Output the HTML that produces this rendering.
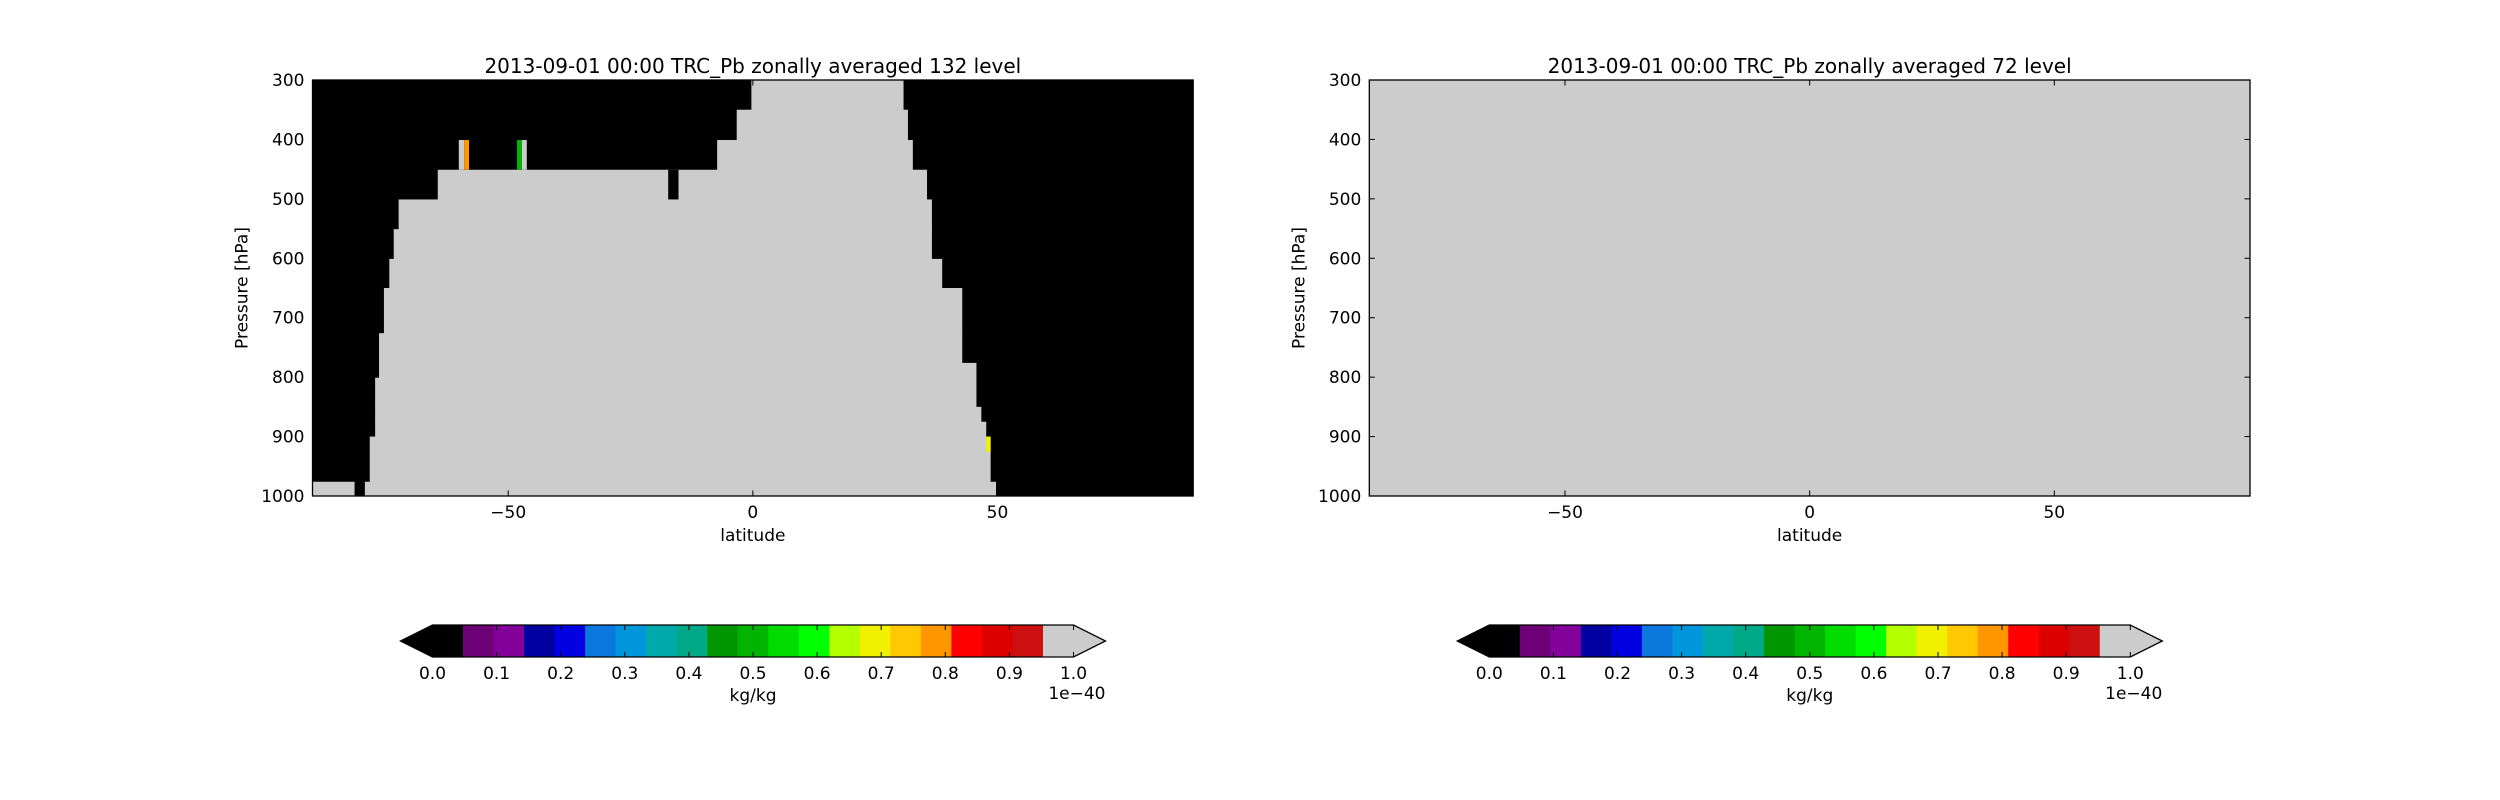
<!DOCTYPE html>
<html><head><meta charset="utf-8"><style>
html,body{margin:0;padding:0;background:#fff}
svg{display:block}
text{font-family:"DejaVu Sans","Liberation Sans",sans-serif;fill:#000}
</style></head><body>
<svg id="fig" width="2500" height="800" viewBox="0 0 2500 800" xmlns="http://www.w3.org/2000/svg">
<rect width="2500" height="800" fill="#fff"/>
</svg>
<script>
// ---- data ----
const rowPTop    = [300, 350, 401, 451, 501, 551, 601, 650, 726, 776, 801, 850, 875, 900, 926, 976];
const rowPBot    = [350, 401, 451, 501, 551, 601, 650, 726, 776, 801, 850, 875, 900, 926, 976, 1000];
const rowLatLeft = [-0.3, -3.3, -7.3, -64.4, -72.4, -73.4, -74.3, -75.4, -76.4, -76.4, -77.2, -77.2, -77.2, -78.3, -78.3, -79.3];
const rowLatRight= [30.8, 31.7, 32.7, 35.6, 36.6, 36.6, 38.7, 42.8, 42.8, 45.7, 45.7, 46.7, 47.7, 48.6, 48.6, 49.7];
const cellLat0 = [-60.1, -59.0, -48.2, -47.2, -17.3, -90, 47.7];
const cellLat1 = [-59.0, -58.0, -47.2, -46.2, -15.2, -81.4, 48.6];
const cellP0   = [401, 401, 401, 401, 451, 976, 900];
const cellP1   = [451, 451, 451, 451, 501, 1000, 926];
const cellVal  = [1.0, 0.8, 0.5, 1.0, 0.0, 1.0, 0.7];
const xTicks = [-50, 0, 50];
const yTicks = [300, 400, 500, 600, 700, 800, 900, 1000];
const cbTicks = ["0.0","0.1","0.2","0.3","0.4","0.5","0.6","0.7","0.8","0.9","1.0"];
const cbColors = ["#000000","#6e0077","#84009b","#0000a0","#0000e0","#0a78dc","#0096dc","#00aaaa","#00aa88","#009600","#00b400","#00dc00","#00ff00","#b4ff00","#f0f000","#ffc800","#ff9600","#ff0000","#dc0000","#cc1010","#cccccc"];
const titles = ["2013-09-01 00:00 TRC_Pb zonally averaged 132 level","2013-09-01 00:00 TRC_Pb zonally averaged 72 level"];

const NS="http://www.w3.org/2000/svg";
const svg=document.getElementById('fig');
function mk(tag,attrs,parent){const e=document.createElementNS(NS,tag);for(const k in attrs)e.setAttribute(k,attrs[k]);(parent||svg).appendChild(e);return e;}
function colorFor(v){let i=Math.min(20,Math.max(0,Math.round(v*20)));return cbColors[i];}

const axW=880.7, axTop=80, axH=416;
const axLefts=[312.5,1369.3];
[0,1].forEach(function(pi){
  const L=axLefts[pi];
  const X=function(lat){return L+(lat+90)/180*axW;};
  const Y=function(p){return axTop+(p-300)/700*axH;};
  const g=mk('g',{});
  
  
  const bg=mk('rect',{x:L,y:axTop,width:axW,height:axH,fill:pi===0?'#000':'#cccccc'},g);
  
  
  if(pi===0){
    for(let i=0;i<rowPTop.length;i++){
      const r=mk('rect',{x:X(rowLatLeft[i]),y:Y(rowPTop[i]),width:X(rowLatRight[i])-X(rowLatLeft[i]),height:Y(rowPBot[i])-Y(rowPTop[i])+0.5,fill:'#cccccc'},g);
      
      
    }
    for(let i=0;i<cellLat0.length;i++){
      const c=mk('rect',{x:X(cellLat0[i]),y:Y(cellP0[i]),width:X(cellLat1[i])-X(cellLat0[i]),height:Y(cellP1[i])-Y(cellP0[i]),fill:colorFor(cellVal[i])},g);
      
      
    }
  }
  mk('rect',{x:L,y:axTop,width:axW,height:axH,fill:'none',stroke:'#000','stroke-width':1.3},g);
  xTicks.forEach(function(t){
    const x=X(t);
    mk('line',{x1:x,y1:axTop+axH,x2:x,y2:axTop+axH-5.5,stroke:'#000'},g);
    mk('line',{x1:x,y1:axTop,x2:x,y2:axTop+5.5,stroke:'#000'},g);
    const tx=mk('text',{x:x,y:axTop+axH+22,'font-size':17,'text-anchor':'middle'},g);
    tx.textContent=(t<0?'\u2212'+(-t):String(t));
    
    
  });
  yTicks.forEach(function(t){
    const y=Y(t);
    mk('line',{x1:L,y1:y,x2:L+5.5,y2:y,stroke:'#000'},g);
    mk('line',{x1:L+axW,y1:y,x2:L+axW-5.5,y2:y,stroke:'#000'},g);
    const ty=mk('text',{x:L-8,y:y+6,'font-size':17,'text-anchor':'end'},g);
    ty.textContent=String(t);
    
    
  });
  const tt=mk('text',{x:L+axW/2,y:73,'font-size':20,'text-anchor':'middle'},g);
  tt.textContent=titles[pi];
  
  
  const xl=mk('text',{x:L+axW/2,y:541,'font-size':17,'text-anchor':'middle'},g);
  xl.textContent='latitude';
  
  
  const yl=mk('text',{x:0,y:0,'font-size':17,'text-anchor':'middle',transform:'translate('+(L-65)+','+(axTop+axH/2)+') rotate(-90)'},g);
  yl.textContent='Pressure [hPa]';
  
  

  const cbL=432.5+(L-312.5), cbR=cbL+641, cbT=625, cbB=657, n=cbColors.length, sw=(cbR-cbL)/n;
  const cb=mk('g',{});
  
  
  for(let i=0;i<n;i++){
    const s=mk('rect',{x:cbL+i*sw,y:cbT,width:sw+0.5,height:cbB-cbT,fill:cbColors[i]},cb);
    
    
  }
  mk('polygon',{points:(cbL+0.5)+','+cbT+' '+(cbL-32)+','+((cbT+cbB)/2)+' '+(cbL+0.5)+','+cbB,fill:cbColors[0]},cb);
  mk('polygon',{points:(cbR-0.5)+','+cbT+' '+(cbR+32)+','+((cbT+cbB)/2)+' '+(cbR-0.5)+','+cbB,fill:cbColors[n-1]},cb);
  mk('polygon',{points:cbL+','+cbT+' '+cbR+','+cbT+' '+(cbR+32)+','+((cbT+cbB)/2)+' '+cbR+','+cbB+' '+cbL+','+cbB+' '+(cbL-32)+','+((cbT+cbB)/2),fill:'none',stroke:'#000','stroke-width':1.3},cb);
  cbTicks.forEach(function(t,i){
    const x=cbL+i*(cbR-cbL)/10;
    mk('line',{x1:x,y1:cbB,x2:x,y2:cbB-5,stroke:'#000'},cb);
    mk('line',{x1:x,y1:cbT,x2:x,y2:cbT+5,stroke:'#000'},cb);
    const l=mk('text',{x:x,y:679,'font-size':17,'text-anchor':'middle'},cb);
    l.textContent=t;
    
    
  });
  const u=mk('text',{x:(cbL+cbR)/2,y:701,'font-size':17,'text-anchor':'middle'},cb);
  u.textContent='kg/kg';
  
  
  const e=mk('text',{x:cbR+32,y:699,'font-size':17,'text-anchor':'end'},cb);
  e.textContent='1e\u221240';
  
  
});
</script>
</body></html>
